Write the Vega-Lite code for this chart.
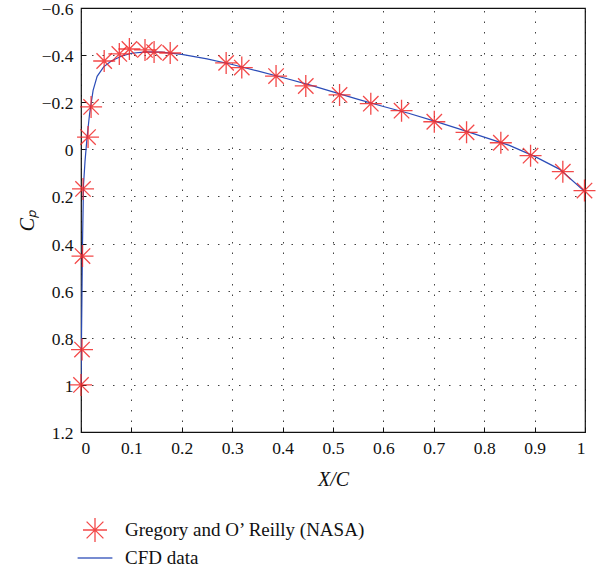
{
  "$schema": "https://vega.github.io/schema/vega-lite/v6.json",
  "width": 504,
  "height": 424,
  "autosize": {"type": "none"},
  "padding": {"left": 81, "top": 8, "right": 13, "bottom": 137},
  "background": "white",
  "config": {
    "view": {"stroke": "#111", "strokeWidth": 1.2},
    "font": "Liberation Serif",
    "axis": {
      "labelFont": "Liberation Serif",
      "labelFontSize": 17.5,
      "labelColor": "#111",
      "titleFont": "Liberation Serif",
      "titleFontSize": 20,
      "titleFontWeight": "normal",
      "titleFontStyle": "italic",
      "titleColor": "#111",
      "domain": false,
      "tickColor": "#111",
      "tickSize": -5,
      "gridColor": "#111",
      "gridDash": [1.5, 9],
      "gridOpacity": 0.8,
      "gridWidth": 1
    }
  },
  "datasets": {
    "exp": [
      {"x": 0.0, "cp": 1.0}, {"x": 0.002, "cp": 0.85}, {"x": 0.003, "cp": 0.453},
      {"x": 0.004, "cp": 0.168}, {"x": 0.014, "cp": -0.052}, {"x": 0.02, "cp": -0.18},
      {"x": 0.046, "cp": -0.375}, {"x": 0.076, "cp": -0.405}, {"x": 0.096, "cp": -0.426},
      {"x": 0.127, "cp": -0.422}, {"x": 0.145, "cp": -0.413}, {"x": 0.177, "cp": -0.409},
      {"x": 0.288, "cp": -0.367}, {"x": 0.319, "cp": -0.347}, {"x": 0.387, "cp": -0.311},
      {"x": 0.446, "cp": -0.269}, {"x": 0.513, "cp": -0.231}, {"x": 0.575, "cp": -0.194},
      {"x": 0.636, "cp": -0.164}, {"x": 0.701, "cp": -0.117}, {"x": 0.765, "cp": -0.072},
      {"x": 0.833, "cp": -0.028}, {"x": 0.892, "cp": 0.027}, {"x": 0.956, "cp": 0.095},
      {"x": 0.999, "cp": 0.175}
    ],
    "cfd": [
      {"x": 0.0, "cp": 1.0}, {"x": 0.001, "cp": 0.8}, {"x": 0.002, "cp": 0.6},
      {"x": 0.003, "cp": 0.4}, {"x": 0.005, "cp": 0.15}, {"x": 0.008, "cp": 0.05},
      {"x": 0.012, "cp": -0.05}, {"x": 0.017, "cp": -0.15}, {"x": 0.024, "cp": -0.25},
      {"x": 0.032, "cp": -0.31}, {"x": 0.045, "cp": -0.35}, {"x": 0.06, "cp": -0.375},
      {"x": 0.08, "cp": -0.395}, {"x": 0.1, "cp": -0.408}, {"x": 0.13, "cp": -0.414},
      {"x": 0.16, "cp": -0.413}, {"x": 0.2, "cp": -0.403}, {"x": 0.25, "cp": -0.384},
      {"x": 0.3, "cp": -0.36}, {"x": 0.35, "cp": -0.333}, {"x": 0.4, "cp": -0.305},
      {"x": 0.45, "cp": -0.276}, {"x": 0.5, "cp": -0.244}, {"x": 0.55, "cp": -0.212},
      {"x": 0.6, "cp": -0.182}, {"x": 0.65, "cp": -0.153}, {"x": 0.7, "cp": -0.121},
      {"x": 0.75, "cp": -0.087}, {"x": 0.8, "cp": -0.052}, {"x": 0.85, "cp": -0.017},
      {"x": 0.9, "cp": 0.03}, {"x": 0.95, "cp": 0.085}, {"x": 1.0, "cp": 0.18}
    ]
  },
  "layer": [
    {
      "data": {"name": "cfd"},
      "transform": [{"calculate": "'CFD data'", "as": "series"}],
      "mark": {"type": "line", "strokeWidth": 1.2, "clip": true},
      "encoding": {
        "x": {
          "field": "x", "type": "quantitative",
          "scale": {"domain": [0, 1], "nice": false, "zero": false},
          "axis": {"title": "X/C", "values": [0, 0.1, 0.2, 0.3, 0.4, 0.5, 0.6, 0.7, 0.8, 0.9, 1], "format": "~g", "labelPadding": 12, "titlePadding": 13, "grid": true, "orient": "bottom"}
        },
        "y": {
          "field": "cp", "type": "quantitative",
          "scale": {"domain": [-0.6, 1.2], "reverse": true, "nice": false, "zero": false},
          "axis": {"title": "Cₚ", "values": [-0.6, -0.4, -0.2, 0, 0.2, 0.4, 0.6, 0.8, 1, 1.2], "format": ".1~f", "labelPadding": 13, "labelOffset": 1.5, "titlePadding": 4, "grid": true, "orient": "left"}
        },
        "color": {
          "field": "series", "type": "nominal",
          "scale": {"domain": ["Gregory and O’ Reilly (NASA)", "CFD data"], "range": ["#f22a2a", "#2b4cb8"]},
          "legend": {"title": null}
        }
      }
    },
    {
      "data": {"name": "exp"},
      "transform": [{"calculate": "'Gregory and O’ Reilly (NASA)'", "as": "series"}],
      "mark": {"type": "point", "filled": false, "size": 484, "strokeWidth": 1.3, "opacity": 0.85},
      "encoding": {
        "x": {"field": "x", "type": "quantitative"},
        "y": {"field": "cp", "type": "quantitative"},
        "color": {"field": "series", "type": "nominal", "legend": {"title": null}},
        "shape": {
          "field": "series", "type": "nominal",
          "scale": {"domain": ["Gregory and O’ Reilly (NASA)", "CFD data"], "range": ["M-1,0L1,0M0,-1L0,1M-0.7,-0.7L0.7,0.7M-0.7,0.7L0.7,-0.7M-0.08,-0.08L0.08,-0.08L0.08,0.08L-0.08,0.08Z", "M-1.45,0L1.45,0"]},
          "legend": {
            "title": null, "orient": "none", "legendX": 1, "legendY": 509,
            "symbolSize": 576, "symbolStrokeWidth": 1.3, "labelFont": "Liberation Serif",
            "labelFontSize": 19, "labelColor": "#111", "labelOffset": 17, "rowPadding": -5, "labelLimit": 400
          }
        }
      }
    }
  ]
}
